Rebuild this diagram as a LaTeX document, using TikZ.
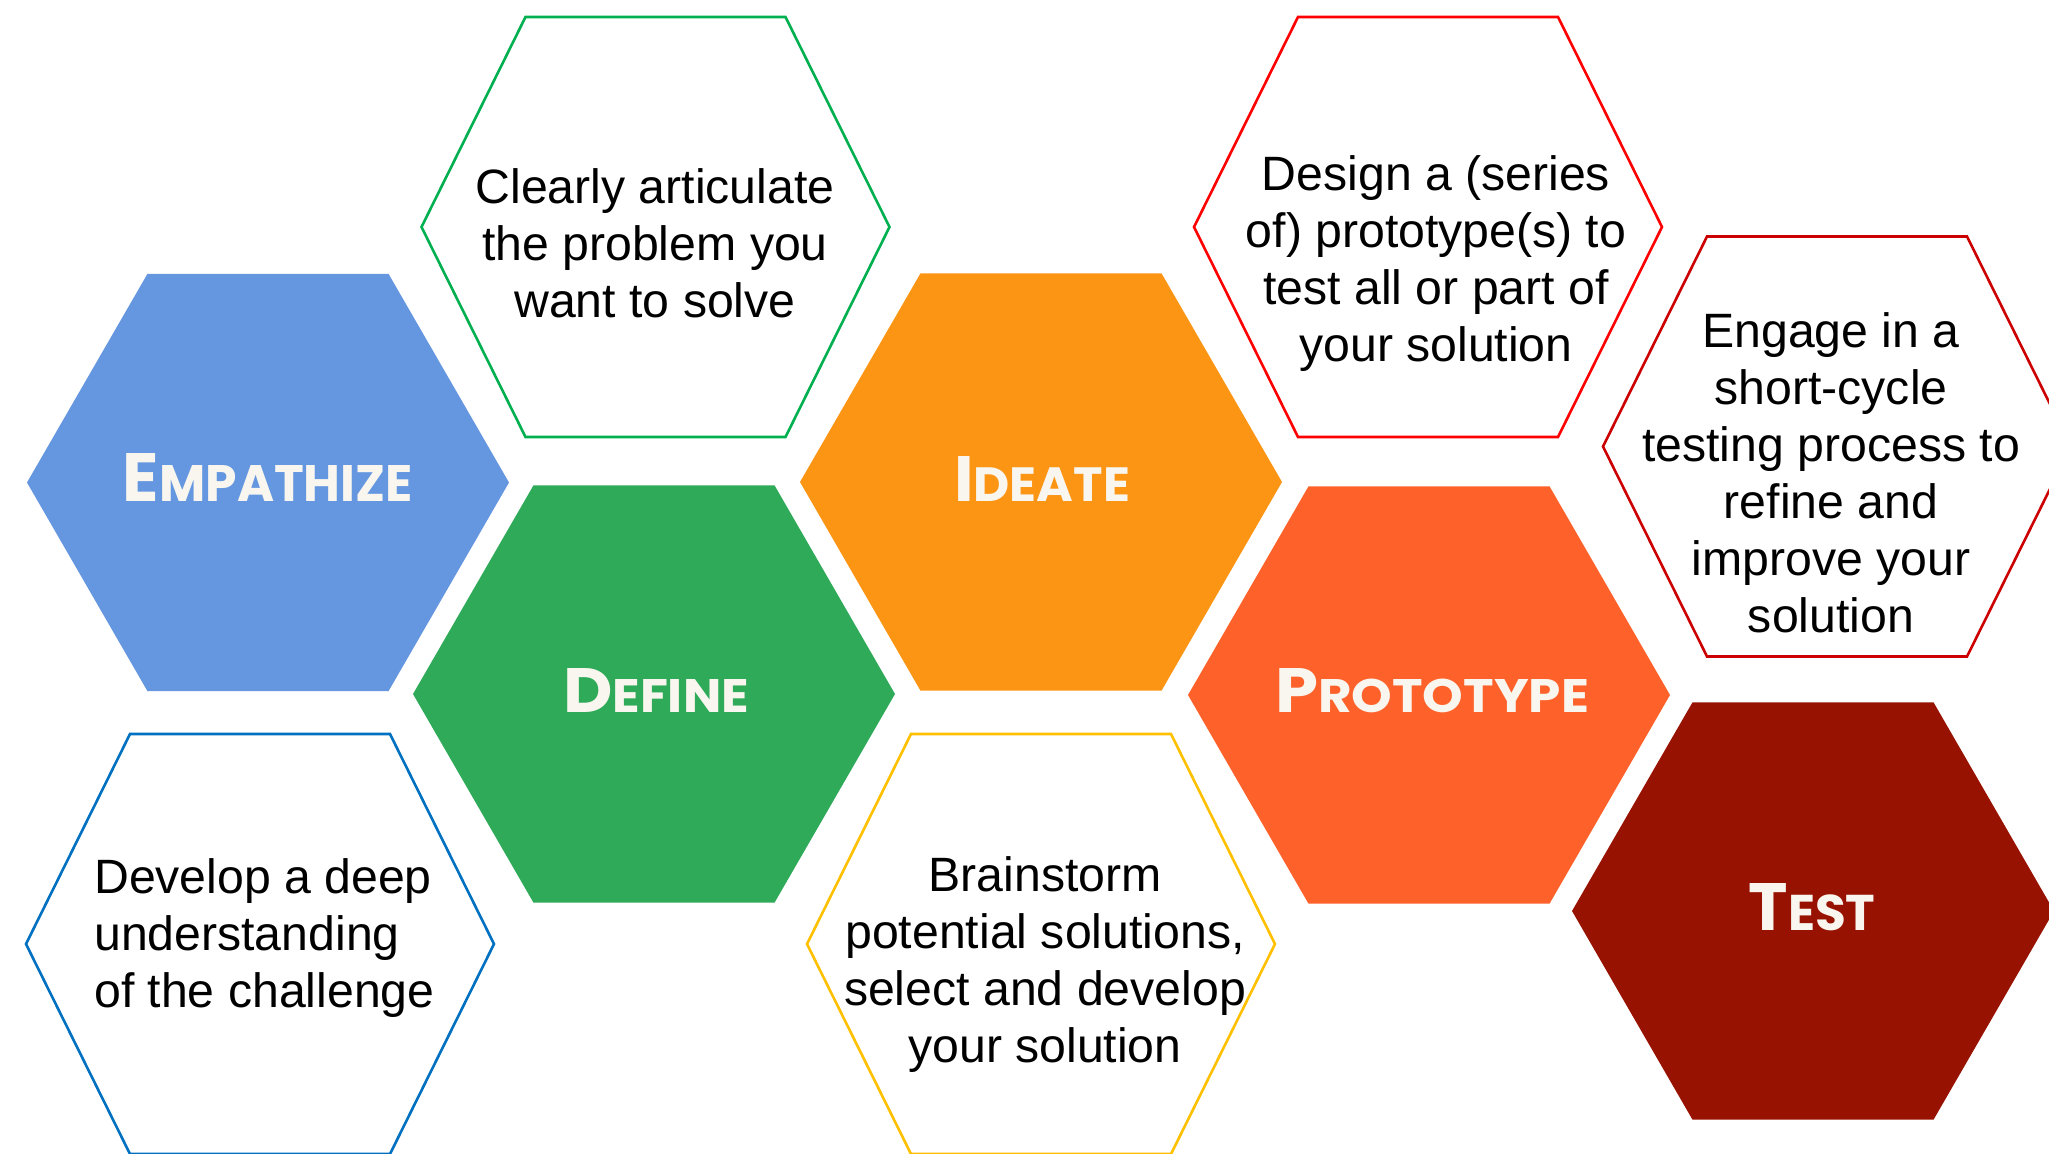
\documentclass[tikz,border=0pt]{standalone}
\usepackage{fontspec}
\usepackage{graphicx}
\setmainfont{Liberation Sans}
\newfontfamily\labfont{Poppins}
\definecolor{empblue}{HTML}{6596E0}
\definecolor{defgreen}{HTML}{2EAA58}
\definecolor{ideorange}{HTML}{FC9414}
\definecolor{protorange}{HTML}{FE622A}
\definecolor{testred}{HTML}{981202}
\definecolor{labwhite}{HTML}{F8F6EE}
\definecolor{lnblue}{HTML}{0070C0}
\definecolor{lngreen}{HTML}{00B050}
\definecolor{lnred}{HTML}{FF0000}
\definecolor{lndkred}{HTML}{CC0000}
\definecolor{lnyellow}{HTML}{FFC000}
\tikzset{
  bodytext/.style={font=\fontsize{48.2}{57}\selectfont, inner sep=0pt, text=black},
  labtext/.style={inner sep=0pt, anchor=base, text=labwhite},
  outl/.style={line width=2.6pt, line join=miter}
}
\newcommand\myfillhex[3]{%
  \fill[#3] ({#1-241},#2) -- ({#1-120.5},{#2-208.7}) -- ({#1+120.5},{#2-208.7})
    -- ({#1+241},#2) -- ({#1+120.5},{#2+208.7}) -- ({#1-120.5},{#2+208.7}) -- cycle;}
\newcommand\myoutlinehex[3]{%
  \draw[outl,#3] ({#1-234},#2) -- ({#1-130},{#2-210}) -- ({#1+130},{#2-210})
    -- ({#1+234},#2) -- ({#1+130},{#2+210}) -- ({#1-130},{#2+210}) -- cycle;}
\newcommand\mysc[2]{{\labfont\bfseries\fontsize{64}{64}\selectfont #1\fontsize{48}{48}\selectfont #2}}
\begin{document}
\begin{tikzpicture}[x=1pt,y=-1pt]
\useasboundingbox (0,0) rectangle (2049,1153);
\clip (0,0) rectangle (2049,1153);
\fill[white] (0,0) rectangle (2049,1153);
% filled hexagons
\myfillhex{268}{482.5}{empblue}
\myfillhex{654}{694}{defgreen}
\myfillhex{1041}{482}{ideorange}
\myfillhex{1429}{695}{protorange}
\myfillhex{1813}{911}{testred}
% outline hexagons
\myoutlinehex{655.5}{227}{draw=lngreen}
\myoutlinehex{1428}{227}{draw=lnred}
\myoutlinehex{1837}{446.5}{draw=lndkred}
\myoutlinehex{260}{944}{draw=lnblue}
\myoutlinehex{1041}{944}{draw=lnyellow}
% labels
\node[labtext] (lemp) at (268,501) {\resizebox{290pt}{48pt}{\mysc{E}{MPATHIZE}}};
\node[labtext] (ldef) at (656,712) {\resizebox{186pt}{44pt}{\mysc{D}{EFINE}}};
\node[labtext] (lide) at (1042,501) {\resizebox{176pt}{45pt}{\mysc{I}{DEATE}}};
\node[labtext] (lpro) at (1432,712) {\resizebox{314pt}{44pt}{\mysc{P}{ROTOTYPE}}};
\node[labtext] (ltes) at (1812,930) {\resizebox{127pt}{47pt}{\mysc{T}{EST}}};
% body texts
\node[bodytext, align=center, anchor=north] (tdef) at (655,163.1)
  {\strut Clearly articulate\\the problem you\\want to solve};
\node[bodytext, align=left, anchor=north west] (temp) at (94,853.1)
  {\strut Develop a deep\\understanding\\of the challenge};
\node[bodytext, align=center, anchor=north] (tide) at (1045,851.1)
  {\strut Brainstorm\\potential solutions,\\select and develop\\your solution};
\node[bodytext, align=center, anchor=north] (tpro) at (1436,150.1)
  {\strut Design a (series\\of) prototype(s) to\\test all or part of\\your solution};
\node[bodytext, align=center, anchor=north] (ttes) at (1831,307.1)
  {\strut Engage in a\\short-cycle\\testing process to\\refine and\\improve your\\solution};
\end{tikzpicture}
\end{document}
